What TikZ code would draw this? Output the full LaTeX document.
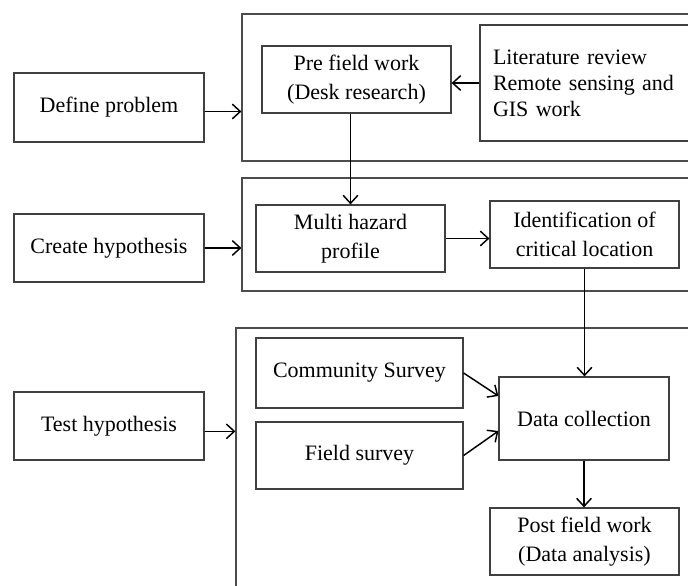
\documentclass[tikz,border=0pt]{standalone}
\usepackage{fontspec}
\setmainfont{Liberation Serif}
\usetikzlibrary{arrows.meta,calc}
\begin{document}
\begin{tikzpicture}[x=0.75pt,y=-0.75pt,
  box/.style={draw=black!75,line width=0.9pt,inner sep=0pt,align=center,
    font=\fontsize{16.5}{21.75}\selectfont},
  frame/.style={draw=black!70,line width=0.9pt,inner sep=0pt},
  arr/.style={draw=black,line width=1.1pt,-{Straight Barb[length=6pt,width=11pt,line width=1.1pt]}}]
\useasboundingbox (0,0) rectangle (688,585);
\clip (0,0) rectangle (688,585);
% outer frames
\node[frame,minimum width=343.5pt,minimum height=110.25pt] (f1) at (471,87.5) {};
\node[frame,minimum width=343.5pt,minimum height=84.75pt] (f2) at (471,234.5) {};
\node[frame,minimum width=348pt,minimum height=204pt] (f3) at (468,464) {};
% left column
\node[box,minimum width=142.5pt,minimum height=51.75pt] (def) at (109,107.5) {Define problem};
\node[box,minimum width=142.5pt,minimum height=51pt] (cre) at (109,248) {Create hypothesis};
\node[box,minimum width=142.5pt,minimum height=51pt] (tes) at (109,426) {Test hypothesis};
% row 1
\node[box,minimum width=141.75pt,minimum height=50.25pt] (pre) at (356.5,79.5) {Pre field work\\(Desk research)};
\node[box,align=left,text width=145.5pt,inner xsep=9.75pt,minimum height=87pt,
  font=\fontsize{16.5}{19.5}\selectfont] (lit) at (590,83) {Literature review\\Remote sensing and\\GIS work};
% row 2
\node[box,minimum width=141.75pt,minimum height=50.25pt] (mul) at (350.5,238.5) {Multi hazard\\profile};
\node[box,minimum width=141.75pt,minimum height=50.25pt] (ide) at (584.5,234.5) {Identification of\\critical location};
% row 3
\node[box,minimum width=155.25pt,minimum height=52.5pt] (com) at (359.5,373) {Community Survey};
\node[box,minimum width=155.25pt,minimum height=50.25pt] (fie) at (359.5,455.5) {Field survey};
\node[box,minimum width=127.5pt,minimum height=62.25pt] (dat) at (584,418.5) {Data collection};
\node[box,minimum width=141.75pt,minimum height=50.25pt] (pos) at (584.5,541.5) {Post field work\\(Data analysis)};
% arrows
\draw[arr] ([yshift=-3pt]def.east) -- ([yshift=-3pt]def.east -| f1.west);
\draw[arr] (cre.east) -- (cre.east -| f2.west);
\draw[arr] ([yshift=-4pt]tes.east) -- ([yshift=-4pt]tes.east -| f3.west);
\draw[arr] (lit.west) -- (lit.west -| pre.east);
\draw[arr] (pre.south -| mul.north) -- (mul.north);
\draw[arr] (mul.east) -- (mul.east -| ide.west);
\draw[arr] (ide.south) -- (ide.south |- dat.north);
\draw[arr] (com.east) -- ([yshift=16.9pt]dat.west);
\draw[arr] (fie.east) -- ([yshift=-9.4pt]dat.west);
\draw[arr] (dat.south) -- (dat.south |- pos.north);
\end{tikzpicture}
\end{document}
